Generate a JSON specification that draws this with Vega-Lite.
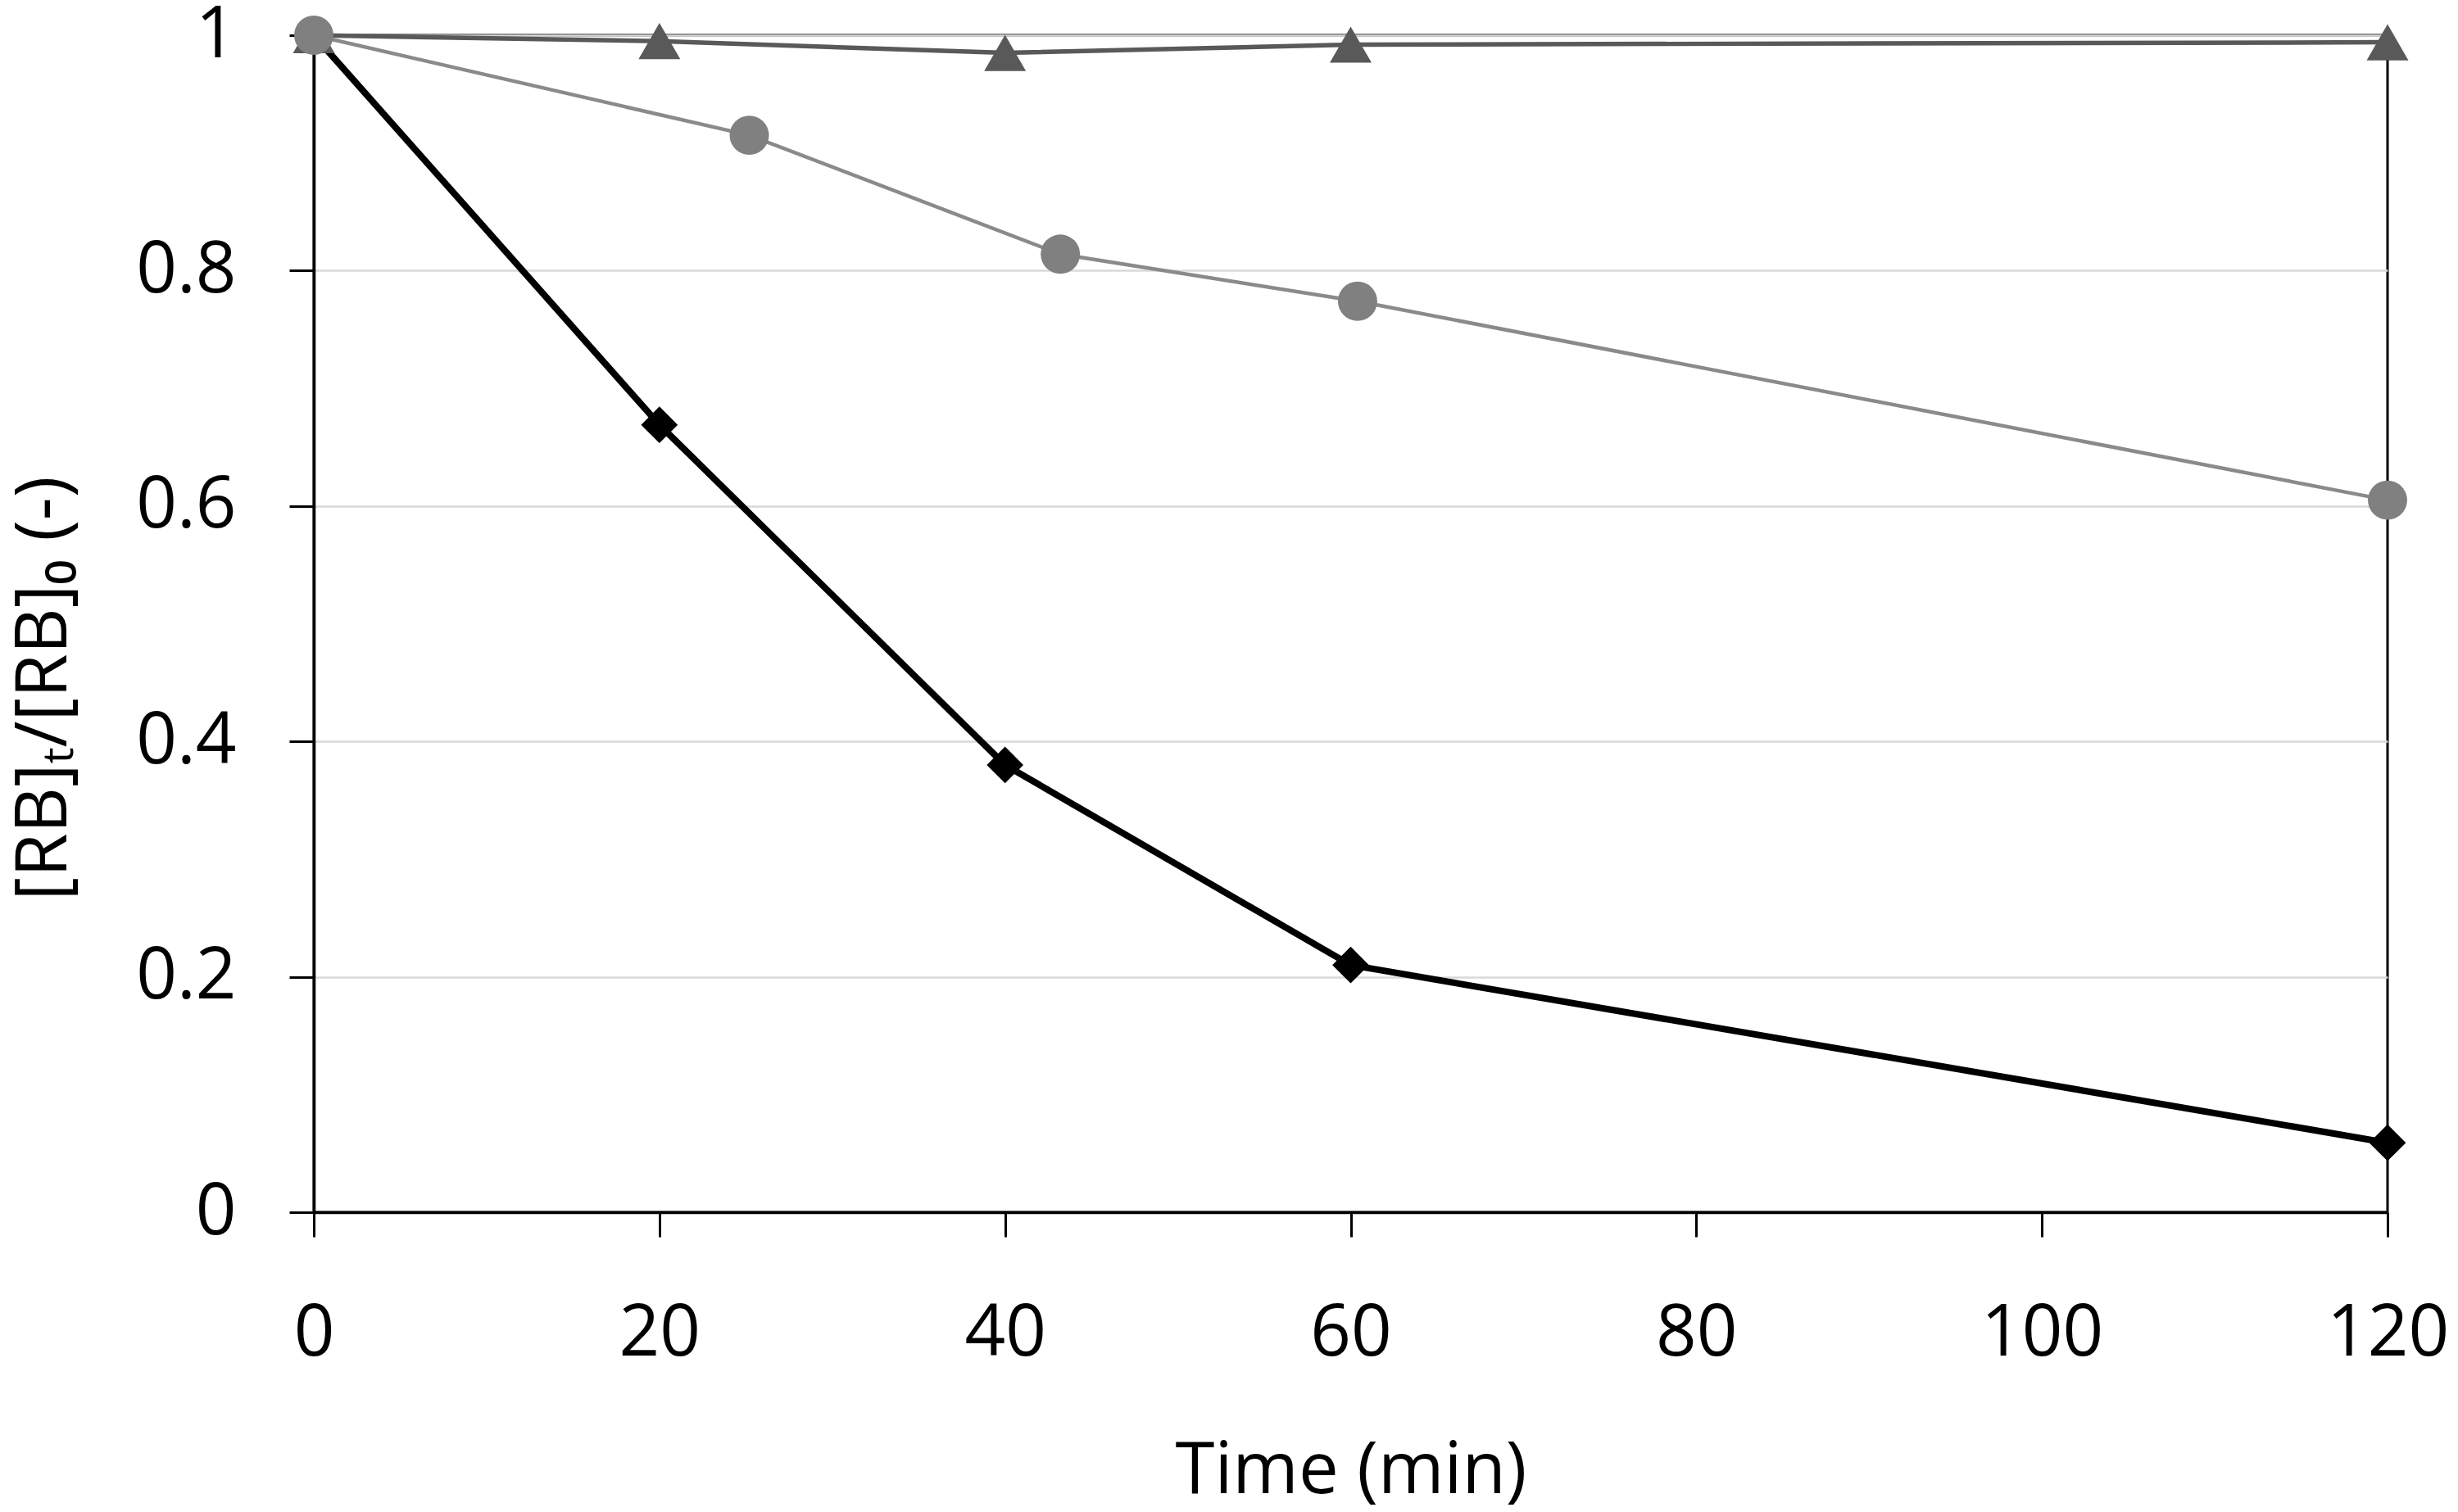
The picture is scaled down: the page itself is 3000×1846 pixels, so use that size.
{
  "$schema": "https://vega.github.io/schema/vega-lite/v6.json",
  "width": 2531,
  "height": 1437,
  "autosize": {"type": "none"},
  "padding": {"left": 383, "top": 43, "right": 86, "bottom": 366},
  "background": "white",
  "config": {
    "view": {"stroke": "black", "strokeWidth": 3},
    "font": "Open Sans",
    "axis": {
      "zindex": 0,
      "domainColor": "black",
      "domainWidth": 3.5,
      "tickColor": "black",
      "tickWidth": 3,
      "tickSize": 30,
      "labelColor": "black",
      "labelFontSize": 87,
      "labelFont": "Open Sans",
      "labelFlush": false,
      "labelOverlap": false,
      "titleColor": "black",
      "titleFont": "Open Sans, DejaVu Sans",
      "titleFontSize": 87,
      "titleFontWeight": "normal"
    }
  },
  "data": {
    "values": [
      {"series": "RB", "time": 0, "ratio": 1.0},
      {"series": "RB", "time": 20, "ratio": 0.669},
      {"series": "RB", "time": 40, "ratio": 0.380},
      {"series": "RB", "time": 60, "ratio": 0.210},
      {"series": "RB", "time": 120, "ratio": 0.059},
      {"series": "TRI", "time": 0, "ratio": 1.0},
      {"series": "TRI", "time": 20, "ratio": 0.995},
      {"series": "TRI", "time": 40, "ratio": 0.985},
      {"series": "TRI", "time": 60, "ratio": 0.992},
      {"series": "TRI", "time": 120, "ratio": 0.994},
      {"series": "CIR", "time": 0, "ratio": 1.0},
      {"series": "CIR", "time": 25.2, "ratio": 0.915},
      {"series": "CIR", "time": 43.2, "ratio": 0.814},
      {"series": "CIR", "time": 60.4, "ratio": 0.774},
      {"series": "CIR", "time": 120, "ratio": 0.605}
    ]
  },
  "encoding": {
    "x": {
      "field": "time",
      "type": "quantitative",
      "scale": {"domain": [0, 120], "nice": false, "zero": false},
      "axis": {
        "values": [0, 20, 40, 60, 80, 100, 120],
        "grid": false,
        "labelPadding": 75,
        "title": "Time (min)",
        "titleY": 342,
        "titleBaseline": "alphabetic"
      }
    },
    "y": {
      "field": "ratio",
      "type": "quantitative",
      "scale": {"domain": [0, 1], "nice": false},
      "axis": {
        "values": [0, 0.2, 0.4, 0.6, 0.8, 1],
        "format": ".1~f",
        "grid": true,
        "gridColor": "#d9d9d9",
        "gridWidth": 2.5,
        "labelPadding": 65,
        "title": "[RB]ₜ/[RB]₀ (-)",
        "titleAngle": -90,
        "titleX": -303,
        "titleY": 797,
        "titleAlign": "center",
        "titleBaseline": "alphabetic"
      }
    }
  },
  "layer": [
    {
      "transform": [{"filter": "datum.series == 'RB'"}],
      "mark": {"type": "line", "color": "black", "strokeWidth": 8}
    },
    {
      "transform": [{"filter": "datum.series == 'RB'"}],
      "mark": {"type": "point", "shape": "diamond", "filled": true, "color": "black", "opacity": 1, "size": 2000, "strokeWidth": 0}
    },
    {
      "transform": [{"filter": "datum.series == 'TRI'"}],
      "mark": {"type": "line", "color": "#595959", "strokeWidth": 5.5}
    },
    {
      "transform": [{"filter": "datum.series == 'TRI'"}],
      "mark": {"type": "point", "shape": "triangle-up", "filled": true, "color": "#595959", "opacity": 1, "size": 2600, "strokeWidth": 0}
    },
    {
      "transform": [{"filter": "datum.series == 'CIR'"}],
      "mark": {"type": "line", "color": "#8a8a8a", "strokeWidth": 4.5}
    },
    {
      "transform": [{"filter": "datum.series == 'CIR'"}],
      "mark": {"type": "point", "shape": "circle", "filled": true, "color": "#808080", "opacity": 1, "size": 2300, "strokeWidth": 0}
    }
  ]
}
